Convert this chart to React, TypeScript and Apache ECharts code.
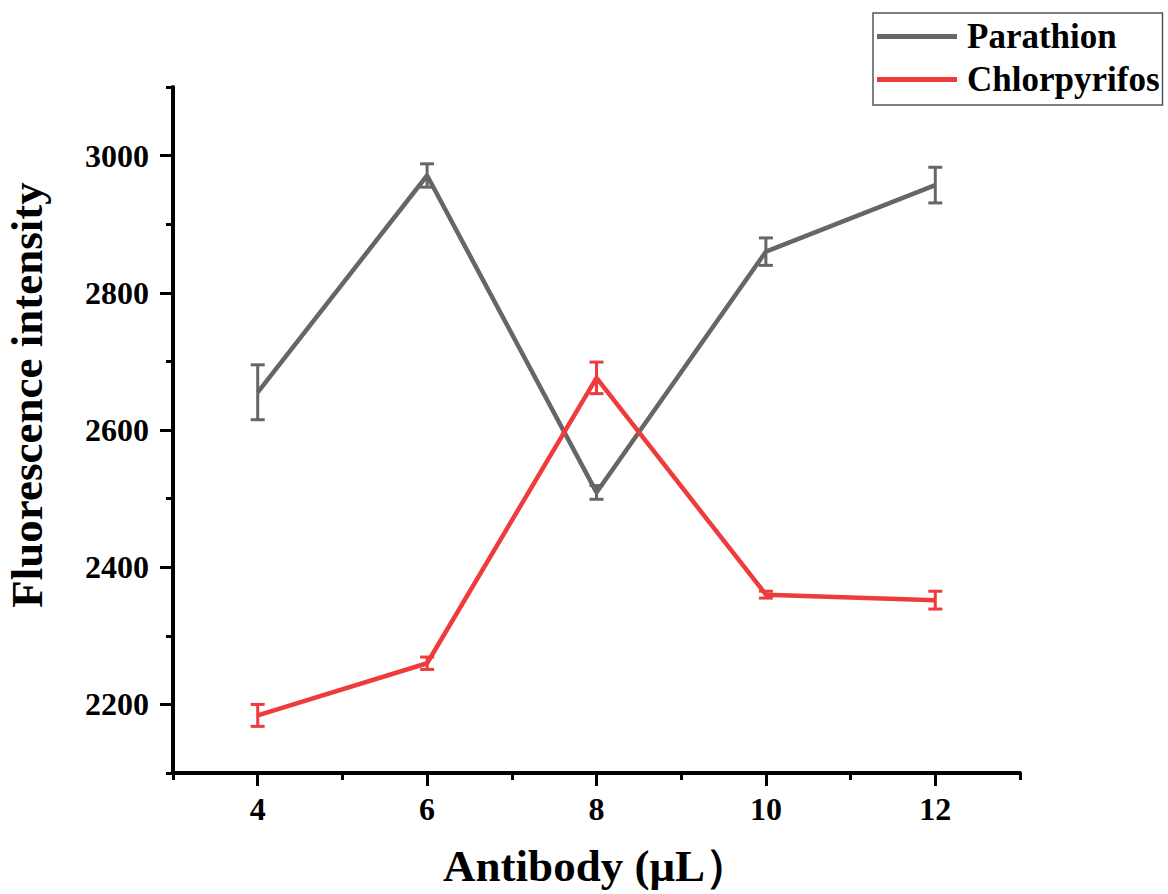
import React, { useEffect, useRef } from "react";
import * as echarts from "echarts";

const xValues = [4, 6, 8, 10, 12];
const parathion = [2655, 2971, 2509, 2860, 2957];
const parathionErr = [40, 17, 10, 20, 26];
const chlorpyrifos = [2184, 2260, 2676, 2360, 2352];
const chlorpyrifosErr = [16, 9, 23, 5, 13];
const yMajorTicks = [2200, 2400, 2600, 2800, 3000];
const xMajorTicks = [4, 6, 8, 10, 12];

const GRAY = "#666666";
const RED = "#EF3B3B";
const FONT = "'Liberation Serif', 'Times New Roman', serif";

function errSeries(name: string, vals: number[], errs: number[], color: string) {
  return {
    type: "custom",
    name: name + "_err",
    data: xValues.map((x, i) => [x, vals[i] - errs[i], vals[i] + errs[i]]),
    renderItem: (params: any, api: any) => {
      const x = api.value(0);
      const lo = api.coord([x, api.value(1)]);
      const hi = api.coord([x, api.value(2)]);
      const hw = 7;
      const style = { stroke: color, lineWidth: 3 };
      return {
        type: "group",
        children: [
          { type: "line", shape: { x1: lo[0], y1: lo[1], x2: hi[0], y2: hi[1] }, style },
          { type: "line", shape: { x1: lo[0] - hw, y1: lo[1], x2: lo[0] + hw, y2: lo[1] }, style },
          { type: "line", shape: { x1: hi[0] - hw, y1: hi[1], x2: hi[0] + hw, y2: hi[1] }, style },
        ],
      };
    },
    silent: true,
    z: 3,
  };
}

export default function App() {
  const ref = useRef<HTMLDivElement>(null);
  useEffect(() => {
    if (!ref.current) return;
    const chart = echarts.init(ref.current, null, { renderer: "svg" });
    const labelStyle = { fontFamily: FONT, fontWeight: "bold", fontSize: 32, color: "#000" };
    chart.setOption({
      animation: false,
      backgroundColor: "#fff",
      grid: { left: 173, right: 148, top: 87, bottom: 121, containLabel: false, outerBoundsMode: "none" },
      legend: {
        data: [
          { name: "Parathion", itemStyle: { color: GRAY } },
          { name: "Chlorpyrifos", itemStyle: { color: RED } },
        ],
        orient: "vertical",
        left: 873,
        top: 13,
        icon: "rect",
        itemWidth: 80,
        itemHeight: 5,
        itemGap: 8,
        padding: [6, 3, 8, 4],
        borderColor: "#555",
        borderWidth: 1.5,
        textStyle: { fontFamily: FONT, fontWeight: "bold", fontSize: 35, color: "#000", padding: [0, 0, 0, 5] },
      },
      xAxis: [
        {
          type: "value",
          min: 3,
          max: 13,
          interval: 1,
          name: "Antibody (μL）",
          nameLocation: "middle",
          nameGap: 70,
          nameTextStyle: { fontFamily: FONT, fontWeight: "bold", fontSize: 45, color: "#000" },
          axisLine: { show: true, lineStyle: { color: "#000", width: 4 } },
          axisTick: { show: true, inside: false, length: 7, lineStyle: { color: "#000", width: 3 } },
          axisLabel: {
            ...labelStyle,
            margin: 20,
            formatter: (v: number) => (xMajorTicks.includes(v) ? String(v) : ""),
          },
          splitLine: { show: false },
        },
        {
          type: "value",
          min: 3,
          max: 13,
          position: "bottom",
          axisLine: { show: false },
          axisTick: { show: true, inside: false, length: 13, customValues: xMajorTicks, lineStyle: { color: "#000", width: 3 } },
          axisLabel: { show: false },
          splitLine: { show: false },
        },
      ],
      yAxis: [
        {
          type: "value",
          min: 2100,
          max: 3100,
          interval: 100,
          name: "Fluorescence intensity",
          nameLocation: "middle",
          nameGap: 124,
          nameTextStyle: { fontFamily: FONT, fontWeight: "bold", fontSize: 45, color: "#000", padding: [0, 0, 0, 70] },
          axisLine: { show: true, lineStyle: { color: "#000", width: 4 } },
          axisTick: { show: true, inside: false, length: 7, lineStyle: { color: "#000", width: 3 } },
          axisLabel: {
            ...labelStyle,
            margin: 24,
            formatter: (v: number) => (yMajorTicks.includes(v) ? String(v) : ""),
          },
          splitLine: { show: false },
        },
        {
          type: "value",
          min: 2100,
          max: 3100,
          position: "left",
          axisLine: { show: false },
          axisTick: { show: true, inside: false, length: 13, customValues: yMajorTicks, lineStyle: { color: "#000", width: 3 } },
          axisLabel: { show: false },
          splitLine: { show: false },
        },
      ],
      series: [
        {
          type: "line",
          name: "Parathion",
          data: xValues.map((x, i) => [x, parathion[i]]),
          symbol: "none",
          lineStyle: { color: GRAY, width: 4.5 },
          itemStyle: { color: GRAY },
          z: 2,
        },
        errSeries("Parathion", parathion, parathionErr, GRAY),
        {
          type: "line",
          name: "Chlorpyrifos",
          data: xValues.map((x, i) => [x, chlorpyrifos[i]]),
          symbol: "none",
          lineStyle: { color: RED, width: 4.5 },
          itemStyle: { color: RED },
          z: 4,
        },
        { ...errSeries("Chlorpyrifos", chlorpyrifos, chlorpyrifosErr, RED), z: 5 },
      ],
    });
    return () => chart.dispose();
  }, []);
  return <div ref={ref} style={{ width: 1168, height: 894, position: "absolute", left: 0, top: 0 }} />;
}
